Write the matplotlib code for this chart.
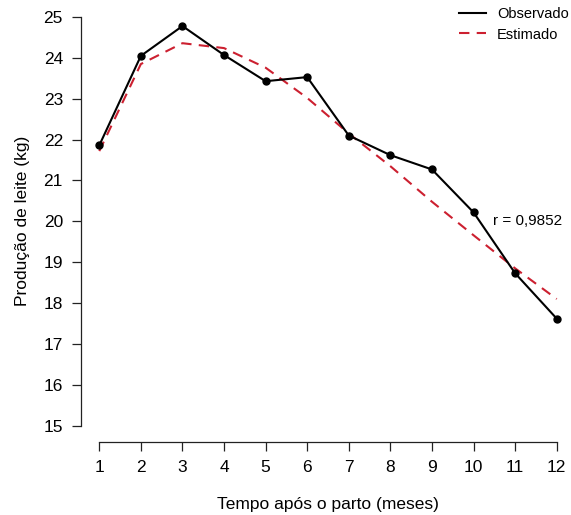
import matplotlib
matplotlib.use("Agg")
import matplotlib.pyplot as plt
from matplotlib.lines import Line2D

# Monthly milk yield: observed means and fitted curve
meses = [1, 2, 3, 4, 5, 6, 7, 8, 9, 10, 11, 12]
observado = [21.86, 24.05, 24.78, 24.07, 23.43, 23.53, 22.10, 21.62, 21.27, 20.22, 18.73, 17.62]
estimado = [21.72, 23.85, 24.36, 24.24, 23.76, 23.02, 22.15, 21.35, 20.48, 19.66, 18.85, 18.10]
r_text = "r = 0,9852"
y_ticks = list(range(15, 26))

plt.rcParams['font.family'] = ['Liberation Sans', 'DejaVu Sans']

fig = plt.figure(figsize=(5.71, 5.15), dpi=100)
W, H = 571, 515
ax = fig.add_axes([81 / W, 1 - 442 / H, 494 / W, (442 - 0.7) / H])

red = '#cc2030'
ax.plot(meses, observado, color='black', lw=1.5, marker='o', ms=5,
        zorder=3)
ax.plot(meses, estimado, color=red, lw=1.5, dashes=(5, 3.5), zorder=2)

ax.set_xlim(0.56, 12.44)
ax.set_ylim(14.6, 25.4)
ax.set_xticks(meses)
ax.set_yticks(y_ticks)

for side in ['top', 'right']:
    ax.spines[side].set_visible(False)
ax.spines['left'].set_bounds(15, 25)
ax.spines['bottom'].set_bounds(1, 12)
for side in ['left', 'bottom']:
    ax.spines[side].set_linewidth(0.9)
    ax.spines[side].set_color('#222222')
ax.tick_params(axis='both', length=6.5, width=0.9, color='#222222',
               labelsize=12.5, pad=6.5)

ax.set_xlabel('Tempo após o parto (meses)', fontsize=12.5, labelpad=16)
ax.set_ylabel('Produção de leite (kg)', fontsize=12.5, labelpad=10)

ax.text(10.47, 20.0, r_text, fontsize=11, ha='left', va='center')

handles = [Line2D([], [], color='black', lw=1.5),
           Line2D([], [], color=red, lw=1.5, dashes=(5, 3.5))]
fig.legend(handles, ['Observado', 'Estimado'], loc='upper right',
           bbox_to_anchor=(569 / W, 1 - 7 / H), frameon=False,
           fontsize=10.5, handlelength=1.9, handletextpad=0.75,
           labelspacing=0.45, borderpad=0, borderaxespad=0)

fig.savefig('out.png', dpi=100)
